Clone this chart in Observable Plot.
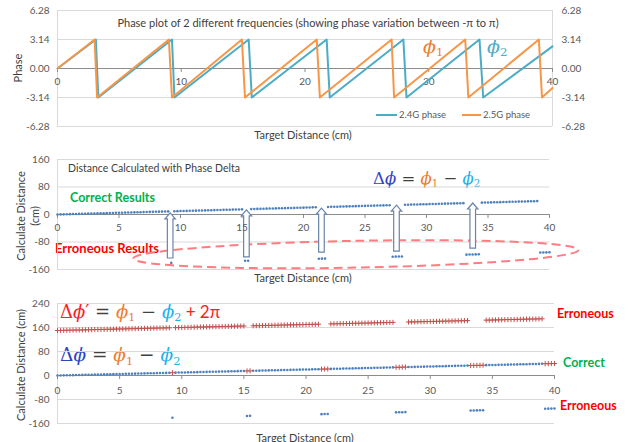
<!DOCTYPE html>
<html><head><meta charset="utf-8">
<script src="https://cdn.jsdelivr.net/npm/d3@7"></script>
<script src="https://cdn.jsdelivr.net/npm/@observablehq/plot@0.6"></script>
<style>
body{margin:0;background:#fff;}
#c{position:relative;width:628px;height:442px;overflow:hidden;font-family:Lato,"Open Sans",sans-serif;color:#404040;}
#c svg{position:absolute;left:0;}
.t{position:absolute;white-space:nowrap;line-height:1;}
.c{transform:translate(-50%,-50%);}
.v{transform:translate(0,-50%);}
.r{transform:translate(-50%,-50%) rotate(-90deg);text-align:center;}
.eq{position:absolute;white-space:nowrap;line-height:1;transform:translate(0,-50%);font-family:"DejaVu Serif",serif;}
.eq i{font-style:italic;}
.eq sub{font-size:0.62em;vertical-align:-0.32em;font-style:normal;}
.op{color:#404040;}
.lg{position:absolute;height:2px;}
.b{font-weight:bold;}
</style></head><body><div id="c">
<div class="t c" style="left:308px;top:22px;font-size:11px">Phase plot of 2 different frequencies (showing phase variation between -π to π)</div>
<div class="t r" style="left:17px;top:68px;font-size:11px">Phase</div>
<div class="t c" style="left:303px;top:134px;font-size:11px">Target Distance (cm)</div>
<div class="lg" style="left:376px;top:114px;width:21px;background:#4bacc6"></div>
<div class="t v" id="lg1" style="left:399px;top:115px;font-size:9.5px;color:#595959"></div>
<div class="lg" style="left:462px;top:114px;width:19px;background:#f79646"></div>
<div class="t v" id="lg2" style="left:483px;top:115px;font-size:9.5px;color:#595959"></div>
<div class="eq" style="left:423px;top:48px;font-size:19px;color:#ed7d31"><i>ϕ</i><sub>1</sub></div>
<div class="eq" style="left:487px;top:48px;font-size:19px;color:#4bacc6"><i>ϕ</i><sub>2</sub></div>

<div class="t v" style="left:68px;top:168px;font-size:10.5px">Distance Calculated with Phase Delta</div>
<div class="t v b" style="left:70px;top:198px;font-size:12.5px;color:#00b050">Correct Results</div>
<div class="t v b" style="left:55px;top:248px;font-size:13px;color:#ff0000">Erroneous Results</div>
<div class="eq" style="left:373px;top:180px;font-size:16.5px"><span style="color:#2e42c4">Δ<i>ϕ</i></span> <span class="op">=</span> <span style="color:#ed7d31"><i>ϕ</i><sub>1</sub></span> <span class="op">−</span> <span style="color:#1fb1ea"><i>ϕ</i><sub>2</sub></span></div>
<div class="t r" style="left:28px;top:216px;font-size:11px;line-height:14px">Calculate Distance<br>(cm)</div>
<div class="t c" style="left:303px;top:277px;font-size:11px">Target Distance (cm)</div>

<div class="eq" style="left:60px;top:313px;font-size:18px"><span style="color:#ff2020">Δ<i>ϕ</i>′</span> <span class="op">=</span> <span style="color:#ed7d31"><i>ϕ</i><sub>1</sub></span> <span class="op">−</span> <span style="color:#1fb1ea"><i>ϕ</i><sub>2</sub></span><span style="color:#ff2020;font-family:Lato,sans-serif;font-size:17px"> + 2π</span></div>
<div class="eq" style="left:60px;top:357px;font-size:18.5px"><span style="color:#2e42c4">Δ<i>ϕ</i></span> <span class="op">=</span> <span style="color:#ed7d31"><i>ϕ</i><sub>1</sub></span> <span class="op">−</span> <span style="color:#1fb1ea"><i>ϕ</i><sub>2</sub></span></div>
<div class="t v b" style="left:557px;top:314px;font-size:12.5px;color:#ff0000">Erroneous</div>
<div class="t v b" style="left:563px;top:363px;font-size:12.5px;color:#00b050">Correct</div>
<div class="t v b" style="left:560px;top:406px;font-size:12.5px;color:#ff0000">Erroneous</div>
<div class="t r" style="left:20px;top:365px;font-size:11px">Calculate Distance (cm)</div>
<div class="t c" style="left:305px;top:437px;font-size:11px">Target Distance (cm)</div>
</div>
<script>
// ---------- Panel 1: wrapped phase (vertices) ----------
const series24Name = "2.4G phase";
const series25Name = "2.5G phase";
const phase24X = [0, 3.1, 3.3, 9.25, 9.45, 15.45, 15.7, 21.75, 22.0, 27.95, 28.2, 34.1, 34.4, 40];
const phase24Y = [0, 3.14, -3.14, 3.14, -3.14, 3.14, -3.14, 3.14, -3.14, 3.14, -3.14, 3.14, -3.14, 2.4];
const phase25X = [0, 3.0, 3.2, 9.0, 9.25, 14.9, 15.15, 20.95, 21.2, 27.0, 27.2, 32.95, 33.2, 38.9, 39.15, 40];
const phase25Y = [0, 3.14, -3.14, 3.14, -3.14, 3.14, -3.14, 3.14, -3.14, 3.14, -3.14, 3.14, -3.14, 3.14, -3.14, -2.1];
const phaseTicks = [6.28, 3.14, 0, -3.14, -6.28];
const phaseTickLabels = ["6.28", "3.14", "0.00", "-3.14", "-6.28"];
const phaseXTicks = [0, 10, 20, 30, 40];

// ---------- Panels 2 & 3: calculated distance vs target distance ----------
const targetDistance = [
0,0.25,0.5,0.75,1,1.25,1.5,1.75,2,2.25,2.5,2.75,3,3.25,3.5,3.75,
4,4.25,4.5,4.75,5,5.25,5.5,5.75,6,6.25,6.5,6.75,7,7.25,7.5,7.75,
8,8.25,8.5,8.75,9,9.25,9.5,9.75,10,10.25,10.5,10.75,11,11.25,11.5,11.75,
12,12.25,12.5,12.75,13,13.25,13.5,13.75,14,14.25,14.5,14.75,15,15.25,15.5,15.75,
16,16.25,16.5,16.75,17,17.25,17.5,17.75,18,18.25,18.5,18.75,19,19.25,19.5,19.75,
20,20.25,20.5,20.75,21,21.25,21.5,21.75,22,22.25,22.5,22.75,23,23.25,23.5,23.75,
24,24.25,24.5,24.75,25,25.25,25.5,25.75,26,26.25,26.5,26.75,27,27.25,27.5,27.75,
28,28.25,28.5,28.75,29,29.25,29.5,29.75,30,30.25,30.5,30.75,31,31.25,31.5,31.75,
32,32.25,32.5,32.75,33,33.25,33.5,33.75,34,34.25,34.5,34.75,35,35.25,35.5,35.75,
36,36.25,36.5,36.75,37,37.25,37.5,37.75,38,38.25,38.5,38.75,39,39.25,39.5,39.75,
40];
// distance from Δϕ = ϕ1 − ϕ2
const calcDelta = [
0,0.25,0.5,0.75,1,1.25,1.5,1.75,2,2.25,2.5,2.75,3,3.25,3.5,3.75,
4,4.25,4.5,4.75,5,5.25,5.5,5.75,6,6.25,6.5,6.75,7,7.25,7.5,7.75,
8,8.25,8.5,8.75,9,-140.75,9.5,9.75,10,10.25,10.5,10.75,11,11.25,11.5,11.75,
12,12.25,12.5,12.75,13,13.25,13.5,13.75,14,14.25,14.5,14.75,15,-134.75,-134.5,15.75,
16,16.25,16.5,16.75,17,17.25,17.5,17.75,18,18.25,18.5,18.75,19,19.25,19.5,19.75,
20,20.25,20.5,20.75,21,-128.75,-128.5,-128.25,22,22.25,22.5,22.75,23,23.25,23.5,23.75,
24,24.25,24.5,24.75,25,25.25,25.5,25.75,26,26.25,26.5,26.75,27,-122.75,-122.5,-122.25,
-122,28.25,28.5,28.75,29,29.25,29.5,29.75,30,30.25,30.5,30.75,31,31.25,31.5,31.75,
32,32.25,32.5,32.75,33,-116.75,-116.5,-116.25,-116,-115.75,34.5,34.75,35,35.25,35.5,35.75,
36,36.25,36.5,36.75,37,37.25,37.5,37.75,38,38.25,38.5,38.75,39,-110.75,-110.5,-110.25,
-110];
// distance from Δϕ′ = ϕ1 − ϕ2 + 2π
const calcDeltaPlus2Pi = [
150,150.25,150.5,150.75,151,151.25,151.5,151.75,152,152.25,152.5,152.75,153,153.25,153.5,153.75,
154,154.25,154.5,154.75,155,155.25,155.5,155.75,156,156.25,156.5,156.75,157,157.25,157.5,157.75,
158,158.25,158.5,158.75,159,9.25,159.5,159.75,160,160.25,160.5,160.75,161,161.25,161.5,161.75,
162,162.25,162.5,162.75,163,163.25,163.5,163.75,164,164.25,164.5,164.75,165,15.25,15.5,165.75,
166,166.25,166.5,166.75,167,167.25,167.5,167.75,168,168.25,168.5,168.75,169,169.25,169.5,169.75,
170,170.25,170.5,170.75,171,21.25,21.5,21.75,172,172.25,172.5,172.75,173,173.25,173.5,173.75,
174,174.25,174.5,174.75,175,175.25,175.5,175.75,176,176.25,176.5,176.75,177,27.25,27.5,27.75,
28,178.25,178.5,178.75,179,179.25,179.5,179.75,180,180.25,180.5,180.75,181,181.25,181.5,181.75,
182,182.25,182.5,182.75,183,33.25,33.5,33.75,34,34.25,184.5,184.75,185,185.25,185.5,185.75,
186,186.25,186.5,186.75,187,187.25,187.5,187.75,188,188.25,188.5,188.75,189,39.25,39.5,39.75,
40];
const distXTicks = [0, 5, 10, 15, 20, 25, 30, 35, 40];
const dist2YTicks = [160, 80, 0, -80, -160];
const dist3YTicks = [240, 160, 80, 0, -80, -160];

// annotations of panel 2 (hollow arrows and dashed ellipse), in data units
const arrowX = [9.2, 15.4, 21.5, 27.6, 33.8];
const arrowTip = [3, 12, 17, 26, 32];
const arrowBase = [-128, -125, -111, -108, -99];
const ellipseC = [24.3, -117], ellipseRx = 18.1, ellipseRy = 39, ellipseTilt = -1.1;

const cTeal = "#4bacc6", cOrange = "#f79646", cBlue = "#4f81bd", cRed = "#c0504d";
const grid = "#d9d9d9", axisC = "#8c8c8c", lab = "#595959";
document.getElementById("lg1").textContent = series24Name;
document.getElementById("lg2").textContent = series25Name;

const rows = targetDistance.map((d, i) => ({d, a: calcDelta[i], b: calcDeltaPlus2Pi[i]}));
const p24 = phase24X.map((x, i) => ({x, y: phase24Y[i], s: series24Name}));
const p25 = phase25X.map((x, i) => ({x, y: phase25Y[i], s: series25Name}));
const baseStyle = {fontFamily: "Lato, sans-serif", fontSize: "10px", background: "transparent", overflow: "visible"};
const c = document.getElementById("c");

function xAxisMarks(ticks, dy) {
  return [
    Plot.ruleY([0], {stroke: axisC}),
    Plot.ruleX(ticks, {x: d => d, y1: () => 0, y2: () => 0, insetBottom: -4, stroke: axisC}),
    Plot.text(ticks, {x: d => d, y: () => 0, dy, text: d => String(d), fill: lab, fontSize: 10})
  ];
}

// ----- panel 1 -----
const p1 = Plot.plot({
  width: 628, height: 142, marginLeft: 57, marginRight: 76, marginTop: 10, marginBottom: 16,
  x: {domain: [0, 40], axis: null}, y: {domain: [-6.28, 6.28], axis: null},
  style: baseStyle,
  marks: [
    Plot.ruleY(phaseTicks.filter(d => d !== 0), {stroke: grid}),
    Plot.ruleX([0, 40], {stroke: grid}),
    ...xAxisMarks(phaseXTicks, 13),
    Plot.text(phaseTicks, {y: d => d, text: (d, i) => phaseTickLabels[i], frameAnchor: "left", dx: -8, textAnchor: "end", fill: lab, fontSize: 10}),
    Plot.text(phaseTicks, {y: d => d, text: (d, i) => phaseTickLabels[i], frameAnchor: "right", dx: 9, textAnchor: "start", fill: lab, fontSize: 10}),
    Plot.line(p24, {x: "x", y: "y", stroke: cTeal, strokeWidth: 2}),
    Plot.line(p25, {x: "x", y: "y", stroke: cOrange, strokeWidth: 2})
  ]
});
p1.style.top = "0px";
c.appendChild(p1);

// ----- panel 2 -----
const p2 = Plot.plot({
  width: 628, height: 148, marginLeft: 57, marginRight: 79, marginTop: 17, marginBottom: 21,
  x: {domain: [0, 40], axis: null}, y: {domain: [-160, 160], axis: null},
  style: baseStyle,
  marks: [
    Plot.ruleY(dist2YTicks.filter(d => d !== 0), {stroke: grid}),
    Plot.ruleX([0], {stroke: grid}),
    ...xAxisMarks(distXTicks, 13),
    Plot.text(dist2YTicks, {y: d => d, text: d => String(d), frameAnchor: "left", dx: -8, textAnchor: "end", fill: lab, fontSize: 10}),
    Plot.dot(rows, {x: "d", y: "a", r: 1.3, fill: cBlue})
  ]
});
p2.style.top = "142px";
c.appendChild(p2);
{
  const sx = p2.scale("x"), sy = p2.scale("y");
  const X = d3.scaleLinear(sx.domain, sx.range), Y = d3.scaleLinear(sy.domain, sy.range);
  const svg = d3.select(p2);
  const cx = X(ellipseC[0]), cy = Y(ellipseC[1]);
  svg.append("ellipse").attr("cx", cx).attr("cy", cy)
    .attr("rx", X(ellipseRx) - X(0)).attr("ry", Y(0) - Y(ellipseRy))
    .attr("transform", `rotate(${ellipseTilt},${cx},${cy})`)
    .attr("fill", "none").attr("stroke", "#ff7c80").attr("stroke-width", 2).attr("stroke-dasharray", "9,5");
  arrowX.forEach((ax, i) => {
    const x = X(ax), yt = Y(arrowTip[i]), yb = Y(arrowBase[i]);
    const w = 2.8, hw = 5.2, hh = 6;
    svg.append("path")
      .attr("d", `M${x - w},${yb}L${x - w},${yt + hh}L${x - hw},${yt + hh}L${x},${yt}L${x + hw},${yt + hh}L${x + w},${yt + hh}L${x + w},${yb}Z`)
      .attr("fill", "#fff").attr("stroke", "#6a84a8").attr("stroke-width", 1.2);
  });
  // keep tick labels above the arrows
  svg.selectAll("g[aria-label='text']").raise();
}

// ----- panel 3 -----
const p3 = Plot.plot({
  width: 628, height: 152, marginLeft: 57, marginRight: 74, marginTop: 13, marginBottom: 19,
  x: {domain: [0, 40], axis: null}, y: {domain: [-160, 240], axis: null},
  style: baseStyle,
  marks: [
    Plot.ruleY(dist3YTicks.filter(d => d !== 0), {stroke: grid}),
    Plot.ruleX([0], {stroke: grid}),
    ...xAxisMarks(distXTicks, 15),
    Plot.text(dist3YTicks, {y: d => d, text: d => String(d), frameAnchor: "left", dx: -8, textAnchor: "end", fill: lab, fontSize: 10}),
    Plot.dot(rows, {x: "d", y: "a", r: 1.3, fill: cBlue}),
    Plot.dot(rows, {x: "d", y: "b", r: 1.8, stroke: cRed, strokeWidth: 1, symbol: "plus"})
  ]
});
p3.style.top = "290px";
c.appendChild(p3);
</script></body></html>
